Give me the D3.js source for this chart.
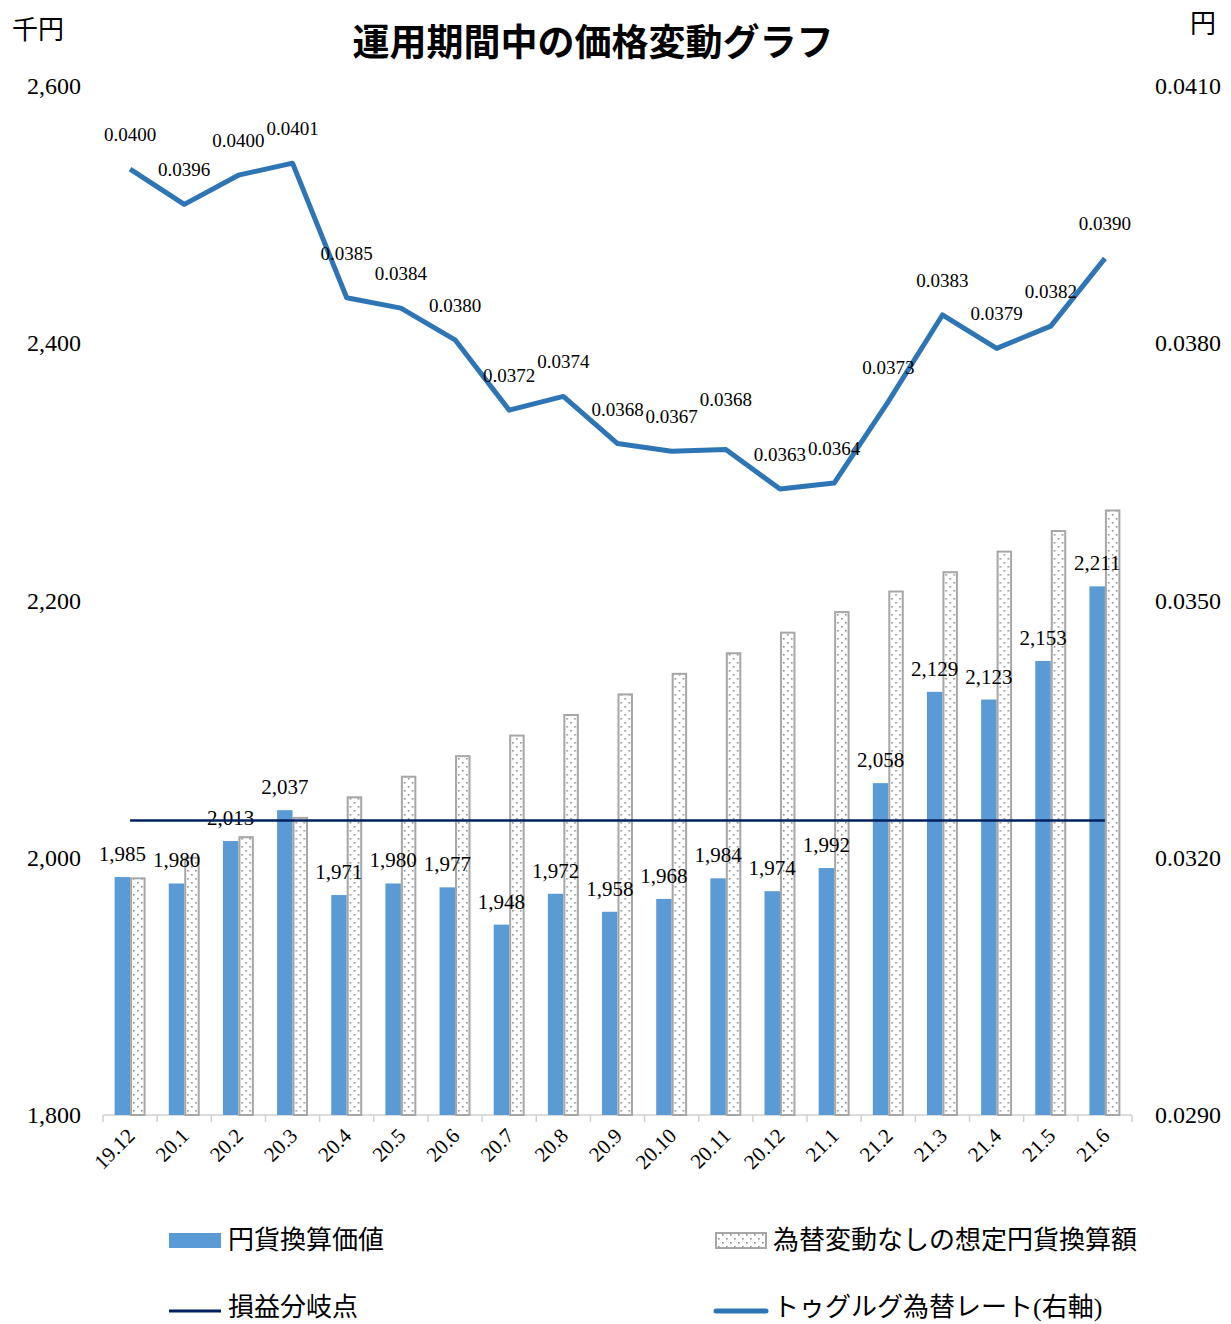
<!DOCTYPE html>
<html>
<head>
<meta charset="utf-8">
<script src="https://cdn.jsdelivr.net/npm/d3@7"></script>
<style>
    body { margin: 0; background: #fff; }
    text { font-family: "Liberation Serif", "Noto Sans CJK JP", serif; fill: #000; }
</style>
</head>
<body>
<div id="chart"></div>
<script>

// chart data
var months = ["19.12","20.1","20.2","20.3","20.4","20.5","20.6","20.7","20.8","20.9",
              "20.10","20.11","20.12","21.1","21.2","21.3","21.4","21.5","21.6"];

// 円貨換算価値 (千円)
var yenValue = [1985,1980,2013,2037,1971,1980,1977,1948,1972,1958,
                1968,1984,1974,1992,2058,2129,2123,2153,2211];

// 為替変動なしの想定円貨換算額 (千円)
var yenNoFx = [1984,2000,2016,2031,2047,2063,2079,2095,2111,2127,
               2143,2159,2175,2191,2207,2222,2238,2254,2270];

// 損益分岐点 (千円)
var breakEven = 2029;

// トゥグルグ為替レート (円)
var mntRate = [0.04003,0.03962,0.03996,0.04010,0.03853,0.03841,0.03804,0.03722,0.03738,0.03683,
               0.03674,0.03676,0.03630,0.03637,0.03732,0.03833,0.03794,0.03820,0.03899];

var leftTicks = [1800,2000,2200,2400,2600];
var rightTicks = [0.0290,0.0320,0.0350,0.0380,0.0410];

var width = 1231, height = 1324;
var plot = {left: 103, right: 1132, top: 86, bottom: 1115};

var svg = d3.select("#chart").append("svg")
    .attr("width", width)
    .attr("height", height);

//dot pattern for the "no fx change" bars
var pat = svg.append("defs").append("pattern")
    .attr("id", "dots")
    .attr("patternUnits", "userSpaceOnUse")
    .attr("width", 8)
    .attr("height", 8);
pat.append("rect").attr("width", 8).attr("height", 8).attr("fill", "#fff");
pat.append("rect").attr("x", 2).attr("y", 2).attr("width", 1.6).attr("height", 1.6).attr("fill", "#8c8c8c");
pat.append("rect").attr("x", 6).attr("y", 6).attr("width", 1.6).attr("height", 1.6).attr("fill", "#8c8c8c");

//scales
var x = d3.scaleBand().domain(months).range([plot.left, plot.right]).paddingInner(0).paddingOuter(0);
var xSub = d3.scaleBand().domain(["yen","nofx"]).range([0, x.bandwidth()]).paddingInner(0).paddingOuter(0.75);
var yLeft = d3.scaleLinear().domain([1800, 2600]).range([plot.bottom, plot.top]);
var yRight = d3.scaleLinear().domain([0.0290, 0.0410]).range([plot.bottom, plot.top]);

//title and unit labels
svg.append("text")
    .attr("x", 593).attr("y", 56)
    .attr("text-anchor", "middle")
    .style("font-size", "37px")
    .style("font-weight", "bold")
    .style("font-family", "'Noto Sans CJK JP', sans-serif")
    .text("運用期間中の価格変動グラフ");

svg.append("text")
    .attr("x", 12).attr("y", 39)
    .style("font-size", "26px")
    .style("font-family", "'Noto Sans CJK JP', sans-serif")
    .text("千円");

svg.append("text")
    .attr("x", 1190).attr("y", 33)
    .style("font-size", "26px")
    .style("font-family", "'Noto Sans CJK JP', sans-serif")
    .text("円");

//left axis labels (no line)
var leftAxis = svg.append("g")
    .attr("transform", "translate(" + (plot.left - 22) + ",0)")
    .call(d3.axisLeft(yLeft).tickValues(leftTicks).tickSize(0).tickPadding(0).tickFormat(d3.format(",")));
leftAxis.select(".domain").remove();
leftAxis.selectAll("text").style("font-size", "24px").style("font-family", "Liberation Serif");

var rightAxis = svg.append("g")
    .attr("transform", "translate(" + (plot.right + 23) + ",0)")
    .call(d3.axisRight(yRight).tickValues(rightTicks).tickSize(0).tickPadding(0).tickFormat(d3.format(".4f")));
rightAxis.select(".domain").remove();
rightAxis.selectAll("text").style("font-size", "24px").style("font-family", "Liberation Serif");

//x axis with ticks at the band edges
var xAxisG = svg.append("g").attr("class", "xaxis");
xAxisG.append("line")
    .attr("x1", plot.left).attr("x2", plot.right)
    .attr("y1", plot.bottom).attr("y2", plot.bottom)
    .attr("stroke", "#d0d0d0").attr("stroke-width", 1.5);
xAxisG.selectAll("line.tick")
    .data(months.concat(["end"]))
    .enter().append("line")
    .attr("class", "tick")
    .attr("x1", function(d, i){ return plot.left + i * x.step(); })
    .attr("x2", function(d, i){ return plot.left + i * x.step(); })
    .attr("y1", plot.bottom).attr("y2", plot.bottom + 7)
    .attr("stroke", "#d0d0d0").attr("stroke-width", 1.5);
xAxisG.selectAll("text")
    .data(months)
    .enter().append("text")
    .attr("transform", function(d){
        return "translate(" + (x(d) + x.bandwidth() / 2 + 6) + "," + (plot.bottom + 22) + ") rotate(-45)";
    })
    .attr("text-anchor", "end")
    .style("font-size", "21px")
    .text(function(d){ return d; });

//bars
var groups = svg.selectAll("g.month")
    .data(months.map(function(m, i){ return {m: m, yen: yenValue[i], nofx: yenNoFx[i]}; }))
    .enter().append("g")
    .attr("class", "month")
    .attr("transform", function(d){ return "translate(" + x(d.m) + ",0)"; });

groups.append("rect")
    .attr("x", xSub("yen"))
    .attr("width", xSub.bandwidth())
    .attr("y", function(d){ return yLeft(d.yen); })
    .attr("height", function(d){ return plot.bottom - yLeft(d.yen); })
    .attr("fill", "#5b9bd5");

groups.append("rect")
    .attr("x", xSub("nofx") + 1)
    .attr("width", xSub.bandwidth() - 2)
    .attr("y", function(d){ return yLeft(d.nofx); })
    .attr("height", function(d){ return plot.bottom - yLeft(d.nofx); })
    .attr("fill", "url(#dots)")
    .attr("stroke", "#a6a6a6")
    .attr("stroke-width", 2);

//break even line
svg.append("line")
    .attr("x1", x(months[0]) + x.bandwidth() / 2)
    .attr("x2", x(months[months.length - 1]) + x.bandwidth() / 2)
    .attr("y1", yLeft(breakEven)).attr("y2", yLeft(breakEven))
    .attr("stroke", "#002060").attr("stroke-width", 2.5);

//bar value labels
groups.append("text")
    .attr("x", xSub("yen") + xSub.bandwidth() / 2)
    .attr("y", function(d){ return yLeft(d.yen) - 16; })
    .attr("text-anchor", "middle")
    .style("font-size", "21px")
    .text(function(d){ return d3.format(",")(d.yen); });

//rate line
var line = d3.line()
    .x(function(d, i){ return x(months[i]) + x.bandwidth() / 2; })
    .y(function(d){ return yRight(d); });

svg.append("path")
    .datum(mntRate)
    .attr("d", line)
    .attr("fill", "none")
    .attr("stroke", "#2e75b6")
    .attr("stroke-width", 5)
    .attr("stroke-linejoin", "round");

//a couple of labels sit higher in the original so they don't collide
var rateLift = {4: 10, 11: 16};
svg.selectAll("text.rate")
    .data(mntRate)
    .enter().append("text")
    .attr("class", "rate")
    .attr("x", function(d, i){ return x(months[i]) + x.bandwidth() / 2; })
    .attr("y", function(d, i){ return yRight(d) - 28 - (rateLift[i] || 0); })
    .attr("text-anchor", "middle")
    .style("font-size", "19px")
    .text(function(d){ return d3.format(".4f")(d); });

//legend
var legend = svg.append("g").attr("class", "legend");
legend.append("rect").attr("x", 169).attr("y", 1233).attr("width", 52).attr("height", 15).attr("fill", "#5b9bd5");
legend.append("text").attr("x", 228).attr("y", 1249).style("font-size", "26px").text("円貨換算価値");

legend.append("rect").attr("x", 716).attr("y", 1233).attr("width", 50).attr("height", 15)
    .attr("fill", "url(#dots)").attr("stroke", "#a6a6a6").attr("stroke-width", 2);
legend.append("text").attr("x", 773).attr("y", 1249).style("font-size", "26px").text("為替変動なしの想定円貨換算額");

legend.append("line").attr("x1", 169).attr("x2", 221).attr("y1", 1311).attr("y2", 1311)
    .attr("stroke", "#002060").attr("stroke-width", 3);
legend.append("text").attr("x", 228).attr("y", 1316).style("font-size", "26px").text("損益分岐点");

legend.append("line").attr("x1", 716).attr("x2", 766).attr("y1", 1311).attr("y2", 1311)
    .attr("stroke", "#2e75b6").attr("stroke-width", 5).attr("stroke-linecap", "round");
legend.append("text").attr("x", 773).attr("y", 1316).style("font-size", "26px").text("トゥグルグ為替レート(右軸)");

</script>
</body>
</html>
